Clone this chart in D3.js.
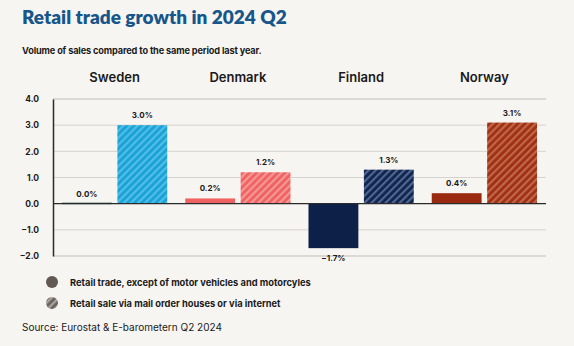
<!DOCTYPE html>
<html>
<head>
<meta charset="utf-8">
<script src="https://cdn.jsdelivr.net/npm/d3@7"></script>
<style>
  html, body { margin: 0; padding: 0; background: #f7f5f2; }
  svg { display: block; font-family: Inter, "Noto Sans", sans-serif; }
</style>
</head>
<body>
<svg id="chart" width="574" height="346"></svg>
<script>
// Retail trade growth, Q2 2024, year on year (%)
const countries = ['Sweden', 'Denmark', 'Finland', 'Norway'];
const series = ['total', 'online'];
const totalValues = [0.0, 0.2, -1.7, 0.4];
const onlineValues = [3.0, 1.2, 1.3, 3.1];
const yTicks = [-2, -1, 0, 1, 2, 3, 4];
const legendLabels = [
  'Retail trade, except of motor vehicles and motorcyles',
  'Retail sale via mail order houses or via internet'
];

// base colour + lighter stripe colour per country
const solidColors = ['#1d5a3e', '#ef6262', '#0c2048', '#992a0f'];
const hatchColors = ['#18a2d6', '#ef6262', '#0e2452', '#a0300f'];
const stripeColors = ['#52bde6', '#f59896', '#54678a', '#c0674d'];

const svg = d3.select('svg#chart');
const defs = svg.append('defs');

const plotLeft = 53,
  plotRight = 546,
  fmt = d3.format('.1f');

const x0 = d3.scaleBand().domain(countries).range([plotLeft, plotRight]);
const x1 = d3.scaleBand().domain(series).range([9, x0.bandwidth() - 9]).paddingInner(0.1);
const y = d3.scaleLinear().domain([-2, 4]).range([256, 99]);

function addHatch(id, base, stripe) {
  const p = defs.append('pattern')
    .attr('id', id)
    .attr('patternUnits', 'userSpaceOnUse')
    .attr('width', 5)
    .attr('height', 5)
    .attr('patternTransform', 'rotate(45)');
  p.append('rect').attr('width', 5).attr('height', 5).attr('fill', base);
  p.append('rect').attr('x', 0).attr('width', 2.2).attr('height', 5).attr('fill', stripe);
}
countries.forEach((c, i) => addHatch('hatch' + i, hatchColors[i], stripeColors[i]));
addHatch('hatchLegend', '#6b625c', '#a9a39d');

// titles
svg.append('text')
  .attr('x', 22).attr('y', 24)
  .attr('fill', '#17568a')
  .style('font-family', 'Lato, sans-serif')
  .style('font-size', '19px').style('font-weight', 800)
  .text('Retail trade growth in 2024 Q2');

svg.append('text')
  .attr('x', 22).attr('y', 54)
  .attr('fill', '#1a1a1a')
  .style('font-size', '9.2px').style('font-weight', 700)
  .style('letter-spacing', '-0.15px')
  .text('Volume of sales compared to the same period last year.');

// country headers
svg.append('g').selectAll('text')
  .data(countries)
  .join('text')
  .attr('x', d => x0(d) + x0.bandwidth() / 2)
  .attr('y', 82)
  .attr('text-anchor', 'middle')
  .attr('fill', '#1a1a1a')
  .style('font-size', '13px').style('font-weight', 600)
  .text(d => d);

// gridlines
svg.append('g').selectAll('line')
  .data(yTicks.filter(d => d !== 0))
  .join('line')
  .attr('x1', plotLeft).attr('x2', plotRight)
  .attr('y1', d => y(d)).attr('y2', d => y(d))
  .attr('stroke', d => (d === 4 || d === -2) ? '#dcd8d3' : '#d6d2cd')
  .attr('stroke-width', d => (d === 4 || d === -2) ? 2 : 1);

// y axis
const yAxis = svg.append('g')
  .attr('transform', `translate(${plotLeft},0)`)
  .call(d3.axisLeft(y).tickValues(yTicks).tickFormat(d => fmt(d).replace('-', '\u2212')).tickSize(0).tickPadding(14));
yAxis.select('.domain').attr('stroke', '#2a2a2a').attr('stroke-width', 1.5);
yAxis.selectAll('text')
  .attr('fill', '#1a1a1a')
  .style('font-family', 'Inter, sans-serif')
  .style('font-size', '8.5px').style('font-weight', 700);

// bars
const rows = [];
countries.forEach((c, i) => {
  rows.push({ country: c, key: 'total', value: totalValues[i], i: i });
  rows.push({ country: c, key: 'online', value: onlineValues[i], i: i });
});

const barX = d => x0(d.country) + x1(d.key);

svg.append('g').selectAll('rect')
  .data(rows)
  .join('rect')
  .attr('x', barX)
  .attr('width', x1.bandwidth())
  .attr('y', d => Math.min(y(d.value), y(0)) - (d.value === 0 ? 1 : 0))
  .attr('height', d => Math.max(Math.abs(y(d.value) - y(0)), 1.5))
  .attr('fill', d => d.key === 'total' ? solidColors[d.i] : `url(#hatch${d.i})`);

// zero line
svg.append('line')
  .attr('x1', plotLeft).attr('x2', plotRight)
  .attr('y1', y(0)).attr('y2', y(0))
  .attr('stroke', '#2a2a2a').attr('stroke-width', 1.3);

// value labels
svg.append('g').selectAll('text')
  .data(rows)
  .join('text')
  .attr('x', d => barX(d) + x1.bandwidth() / 2)
  .attr('y', d => d.value >= 0 ? y(d.value) - 7 : y(d.value) + 13)
  .attr('text-anchor', 'middle')
  .attr('fill', '#1a1a1a')
  .style('font-size', '8px').style('font-weight', 700)
  .text(d => fmt(d.value).replace('-', '\u2212') + '%');

// legend
const legend = svg.append('g').selectAll('g')
  .data(legendLabels)
  .join('g')
  .attr('transform', (d, i) => `translate(52,${282 + i * 21})`);
legend.append('circle')
  .attr('r', 6)
  .attr('fill', (d, i) => i === 0 ? '#625952' : 'url(#hatchLegend)');
legend.append('text')
  .attr('x', 18).attr('y', 3.5)
  .attr('fill', '#1a1a1a')
  .style('font-size', '9.3px').style('font-weight', 700)
  .text(d => d);

svg.append('text')
  .attr('x', 22).attr('y', 331)
  .attr('fill', '#1a1a1a')
  .style('font-size', '10px')
  .text('Source: Eurostat & E-barometern Q2 2024');
</script>
</body>
</html>
